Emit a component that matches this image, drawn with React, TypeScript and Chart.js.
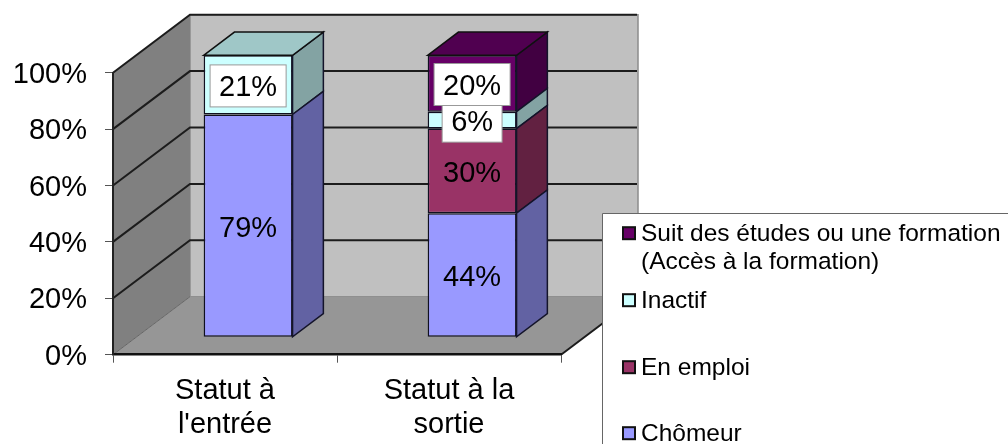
import React, { useEffect, useRef } from "react";
import { Chart, registerables } from "chart.js";

Chart.register(...registerables);

const categories = [["Statut à", "l'entrée"], ["Statut à la", "sortie"]];
const yTicks = [0, 20, 40, 60, 80, 100];

const chomeur = [79, 44];
const emploi = [null, 30];
const inactif = [21, 6];
const etudes = [null, 20];

const seriesNames = ["Chômeur", "En emploi", "Inactif", "Suit des études ou une formation"];
const legendExtraLine = "(Accès à la formation)";
const seriesColors = ["#9999FF", "#993366", "#CCFFFF", "#660066"];
const boxedLabels = [[false, false], [false, false], [true, true], [false, true]];

const FONT = '"Liberation Sans", Arial, sans-serif';
const DX = 77;
const DY = -58;
const BAR_FRONT = 0.3;
const BAR_BACK = 0.7;

function shade(hex: string, f: number) {
  const n = parseInt(hex.slice(1), 16);
  const c = [(n >> 16) & 255, (n >> 8) & 255, n & 255].map((v) => Math.round(v * f));
  return `rgb(${c[0]},${c[1]},${c[2]})`;
}

function poly(ctx: CanvasRenderingContext2D, pts: number[][], fill?: string, stroke?: string, lw = 1) {
  ctx.beginPath();
  pts.forEach((p, i) => (i ? ctx.lineTo(p[0], p[1]) : ctx.moveTo(p[0], p[1])));
  ctx.closePath();
  if (fill) {
    ctx.fillStyle = fill;
    ctx.fill();
  }
  if (stroke) {
    ctx.strokeStyle = stroke;
    ctx.lineWidth = lw;
    ctx.stroke();
  }
}

const walls = {
  id: "walls",
  beforeDraw(chart: any) {
    const { ctx, chartArea: a, scales } = chart;
    const y = scales.y;
    if (!chart.$labelsShifted) {
      y.getLabelItems(a).forEach((it: any) => {
        it.textOffset += 2;
      });
      chart.$labelsShifted = true;
    }
    ctx.save();
    poly(ctx, [[a.left + DX, a.top + DY], [a.right + DX, a.top + DY], [a.right + DX, a.bottom + DY], [a.left + DX, a.bottom + DY]], "#C0C0C0", "#8c8c8c", 1.5);
    poly(ctx, [[a.left, a.top], [a.left + DX, a.top + DY], [a.left + DX, a.bottom + DY], [a.left, a.bottom]], "#808080");
    poly(ctx, [[a.left, a.bottom], [a.left + DX, a.bottom + DY], [a.right + DX, a.bottom + DY], [a.right, a.bottom]], "#969696");
    ctx.strokeStyle = "#666";
    ctx.lineWidth = 1;
    ctx.beginPath();
    ctx.moveTo(a.left, a.bottom);
    ctx.lineTo(a.left + DX, a.bottom + DY);
    ctx.stroke();
    ctx.strokeStyle = "#1c1c1c";
    ctx.lineWidth = 2;
    ctx.beginPath();
    ctx.moveTo(a.right, a.bottom);
    ctx.lineTo(a.right + DX, a.bottom + DY);
    for (const v of yTicks) {
      if (v === 0) continue;
      const py = y.getPixelForValue(v);
      ctx.moveTo(a.left, py);
      ctx.lineTo(a.left + DX, py + DY);
      ctx.lineTo(a.right + DX - 1, py + DY);
    }
    ctx.stroke();
    ctx.restore();
  },
  beforeDatasetDraw(chart: any) {
    chart.ctx.save();
    chart.ctx.translate(DX * BAR_FRONT, DY * BAR_FRONT);
  },
  afterDatasetDraw(chart: any, args: any) {
    const { ctx } = chart;
    ctx.restore();
    const di = args.index;
    const color = seriesColors[di];
    const ox = DX * BAR_FRONT;
    const oy = DY * BAR_FRONT;
    const bx = DX * (BAR_BACK - BAR_FRONT);
    const by = DY * (BAR_BACK - BAR_FRONT);
    args.meta.data.forEach((el: any, i: number) => {
      if (chart.data.datasets[di].data[i] == null) return;
      const { x, y, base, width } = el.getProps(["x", "y", "base", "width"], true);
      const r = x + width / 2 + ox;
      const l = x - width / 2 + ox;
      const t = y + oy;
      const b = base + oy;
      poly(ctx, [[r, t], [r + bx, t + by], [r + bx, b + by], [r, b]], shade(color, 0.64), "#14142a", 1.5);
      const above = chart.data.datasets.slice(di + 1).some((d: any) => d.data[i] != null);
      if (!above) poly(ctx, [[l, t], [l + bx, t + by], [r + bx, t + by], [r, t]], shade(color, 0.78), "#101010", 1.5);
    });
  },
  afterDatasetsDraw(chart: any) {
    const { ctx } = chart;
    ctx.save();
    ctx.font = `29px ${FONT}`;
    ctx.textAlign = "center";
    ctx.textBaseline = "middle";
    const ox = DX * BAR_FRONT;
    const oy = DY * BAR_FRONT;
    chart.data.datasets.forEach((ds: any, di: number) => {
      const el0 = chart.getDatasetMeta(di).data;
      ds.data.forEach((v: number | null, i: number) => {
        if (v == null) return;
        const { x, y, base } = el0[i].getProps(["x", "y", "base"], true);
        const cx = x + ox;
        const cy = (y + base) / 2 + oy + 1;
        const txt = `${v}%`;
        if (boxedLabels[di][i]) {
          const w = ctx.measureText(txt).width + 18;
          ctx.fillStyle = "#fff";
          ctx.strokeStyle = "#999";
          ctx.lineWidth = 1;
          ctx.fillRect(cx - w / 2, cy - 21, w, 42);
          ctx.strokeRect(cx - w / 2, cy - 21, w, 42);
        }
        ctx.fillStyle = "#000";
        ctx.fillText(txt, cx, cy + 2);
      });
    });
    ctx.restore();
  },
  afterDraw(chart: any) {
    const { ctx, width, height } = chart;
    ctx.save();
    ctx.fillStyle = "#fff";
    ctx.fillRect(602.5, 213.5, width - 602, height - 213);
    ctx.strokeStyle = "#666";
    ctx.lineWidth = 1;
    ctx.beginPath();
    ctx.moveTo(602.5, height);
    ctx.lineTo(602.5, 213.5);
    ctx.lineTo(width, 213.5);
    ctx.stroke();
    ctx.font = `24.5px ${FONT}`;
    ctx.textAlign = "left";
    ctx.textBaseline = "alphabetic";
    const rows = [
      { s: 3, y: 240.7 },
      { s: 2, y: 307.7 },
      { s: 1, y: 374.7 },
      { s: 0, y: 440.7 },
    ];
    for (const r of rows) {
      ctx.fillStyle = seriesColors[r.s];
      ctx.strokeStyle = "#111";
      ctx.lineWidth = 2;
      ctx.fillRect(623, r.y - 13.5, 12, 12);
      ctx.strokeRect(623, r.y - 13.5, 12, 12);
      ctx.fillStyle = "#000";
      ctx.fillText(seriesNames[r.s], 641, r.y);
    }
    ctx.fillText(legendExtraLine, 641, 269);
    ctx.restore();
  },
};

export default function App() {
  const ref = useRef<HTMLCanvasElement>(null);
  useEffect(() => {
    const series = [chomeur, emploi, inactif, etudes];
    const chart = new Chart(ref.current!, {
      type: "bar",
      plugins: [walls],
      data: {
        labels: categories as any,
        datasets: series.map((data, i) => ({
          label: seriesNames[i],
          data: data as any,
          backgroundColor: seriesColors[i],
          borderColor: "#101020",
          borderWidth: 1.5,
          borderSkipped: false,
          categoryPercentage: 1,
          barPercentage: 0.397,
          clip: false as any,
        })),
      },
      options: {
        responsive: false,
        animation: false,
        events: [],
        layout: { padding: { top: 72.7, right: 447, left: 0, bottom: 0 } },
        plugins: { legend: { display: false }, tooltip: { enabled: false } },
        scales: {
          x: {
            stacked: true,
            afterFit: (s: any) => {
              s.height = 89.3;
            },
            grid: { drawOnChartArea: false, tickLength: 8, color: "#555", offset: true },
            border: { color: "#111", width: 2.5 },
            ticks: {
              color: "#000",
              maxRotation: 0,
              autoSkip: false,
              padding: 11.5,
              font: { family: FONT, size: 29, lineHeight: 1.17 },
            },
          },
          y: {
            stacked: true,
            min: 0,
            max: 100,
            afterFit: (s: any) => {
              s.width = 113;
            },
            afterBuildTicks: (s: any) => {
              s.ticks = yTicks.map((value) => ({ value }));
            },
            grid: { drawOnChartArea: false, tickLength: 8, color: "#555" },
            border: { color: "#222", width: 2 },
            ticks: {
              color: "#000",
              padding: 18,
              callback: (v: any) => `${v}%`,
              font: { family: FONT, size: 29 },
            },
          },
        },
      },
    });
    return () => chart.destroy();
  }, []);
  return (
    <canvas
      ref={ref}
      width={1008}
      height={444}
      style={{ position: "fixed", left: 0, top: 0, width: 1008, height: 444, display: "block", filter: "blur(0.35px)" }}
    />
  );
}
